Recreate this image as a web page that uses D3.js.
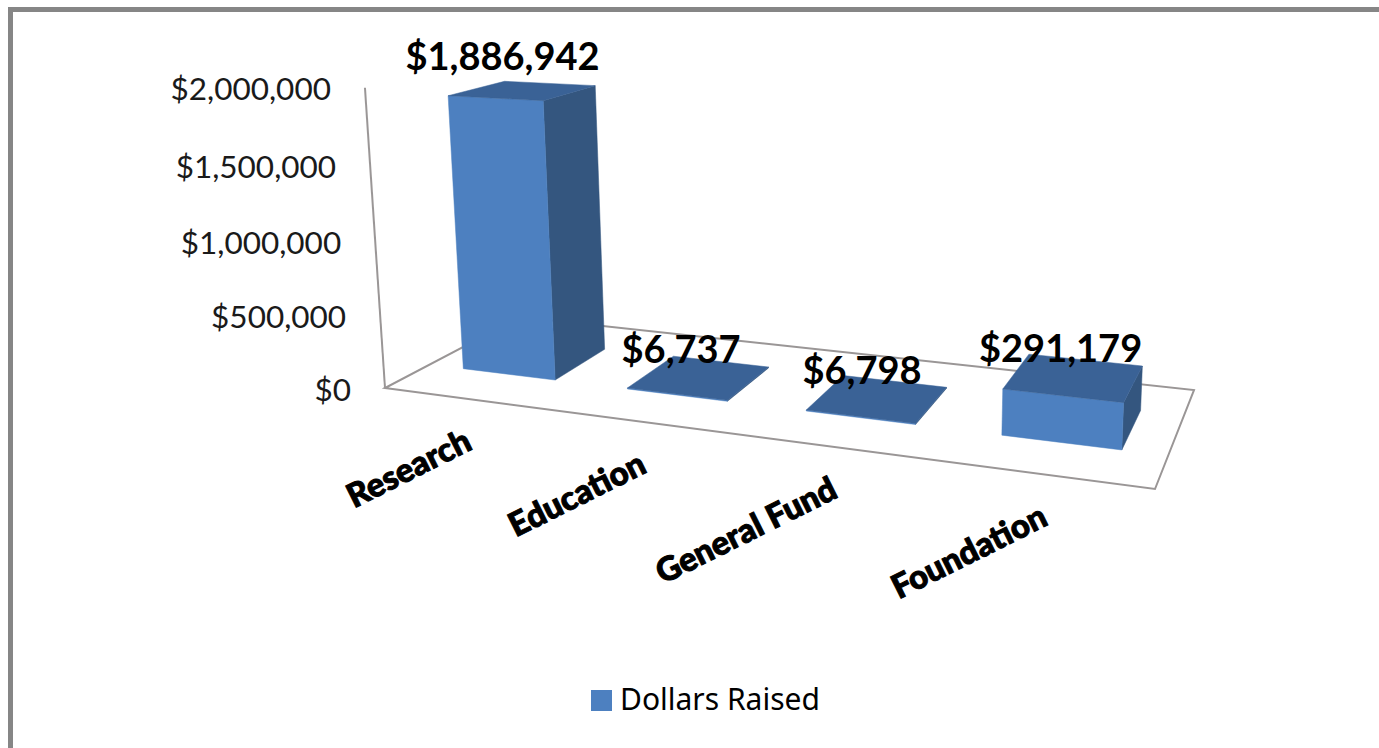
<!DOCTYPE html>
<html>
<head>
<meta charset="utf-8">
<script src="https://cdn.jsdelivr.net/npm/d3@7/dist/d3.min.js"></script>
<style>
    html, body { margin: 0; padding: 0; background: #fff; overflow: hidden; }
    text { fill: #000; }
</style>
</head>
<body>
<div id="chart"></div>
<script>
// chart values
const categories = ["Research", "Education", "General Fund", "Foundation"];
const dollarsRaised = [1886942, 6737, 6798, 291179];
const valueLabels = ["$1,886,942", "$6,737", "$6,798", "$291,179"];
const tickValues = [0, 500000, 1000000, 1500000, 2000000];
const seriesName = "Dollars Raised";

const width = 1379, height = 748;

const svg = d3.select("#chart").append("svg")
    .attr("width", width)
    .attr("height", height);

// homography for the chart floor: unit square (u along categories, v into depth)
// goes to the four floor corners in the picture
function floorMatrix(p) {
    const [p0, p1, p2, p3] = p;
    const dx1 = p1[0] - p2[0], dx2 = p3[0] - p2[0], sx = p0[0] - p1[0] + p2[0] - p3[0];
    const dy1 = p1[1] - p2[1], dy2 = p3[1] - p2[1], sy = p0[1] - p1[1] + p2[1] - p3[1];
    const det = dx1 * dy2 - dx2 * dy1;
    const g = (sx * dy2 - dx2 * sy) / det;
    const h = (dx1 * sy - sx * dy1) / det;
    return [
        [p1[0] - p0[0] + g * p1[0], p3[0] - p0[0] + h * p3[0], p0[0]],
        [p1[1] - p0[1] + g * p1[1], p3[1] - p0[1] + h * p3[1], p0[1]],
        [g, h, 1]
    ];
}

const floor = floorMatrix([[385, 388], [1155, 489], [1194, 390], [520, 317]]);
// vertical direction, it runs to a vanishing point far under the chart
const vanish = [860, 7500], lift = -0.0405;

function project(u, v, h) {
    const w = floor[2][0] * u + floor[2][1] * v + floor[2][2] + lift * h;
    return [
        (floor[0][0] * u + floor[0][1] * v + floor[0][2] + lift * h * vanish[0]) / w,
        (floor[1][0] * u + floor[1][1] * v + floor[1][2] + lift * h * vanish[1]) / w
    ];
}

const y = d3.scaleLinear().domain([0, 2000000]).range([0, 1]);
const x = d3.scaleBand().domain(categories).range([0.004, 0.997]).paddingInner(0.43).paddingOuter(0.2);
const depth = d3.scaleLinear().domain([0, 1]).range([0.30, 0.71]);

const line = d3.line();
const axisColor = "#9a9696";

// frame of the pasted picture
svg.append("path")
    .attr("d", "M10.5,748V9.5H1379")
    .attr("fill", "none")
    .attr("stroke", "#868686")
    .attr("stroke-width", 5);

// floor and value axis
svg.append("path")
    .attr("d", line([project(0, 0, 0), project(1, 0, 0), project(1, 1, 0), project(0, 1, 0)]) + "Z")
    .attr("fill", "none")
    .attr("stroke", axisColor)
    .attr("stroke-width", 2);

svg.append("path")
    .attr("d", line([project(0, 0, 0), project(0, 0, 1)]))
    .attr("fill", "none")
    .attr("stroke", axisColor)
    .attr("stroke-width", 2);

// value axis labels
svg.append("g").selectAll("text")
    .data(tickValues)
    .enter().append("text")
    .attr("x", d => project(0, 0, y(d))[0] - 34)
    .attr("y", d => project(0, 0, y(d))[1] + 12.5)
    .attr("text-anchor", "end")
    .style("font-family", "Lato")
    .style("font-size", "31.5px")
    .style("fill", "#1a1a1a")
    .text(d => "$" + d3.format(",")(d));

// bars, a corner is [side, depth, value]
const bars = svg.append("g").selectAll("g")
    .data(categories.map((c, i) => ({ category: c, value: dollarsRaised[i], label: valueLabels[i] })))
    .enter().append("g");

function corners(d) {
    const u0 = x(d.category), u1 = u0 + x.bandwidth();
    const v0 = depth(0), v1 = depth(1), h = y(d.value);
    return { u0, u1, v0, v1, h };
}

function face(colour, pts) {
    return function (d) {
        const c = corners(d);
        d3.select(this).append("path")
            .attr("d", line(pts(c).map(p => project(p[0], p[1], p[2]))) + "Z")
            .attr("fill", colour)
            .attr("stroke", colour)
            .attr("stroke-width", 0.5);
    };
}

bars.each(face("#34567f", c => [[c.u1, c.v0, 0], [c.u1, c.v1, 0], [c.u1, c.v1, c.h], [c.u1, c.v0, c.h]]));
bars.each(face("#4d80c0", c => [[c.u0, c.v0, 0], [c.u1, c.v0, 0], [c.u1, c.v0, c.h], [c.u0, c.v0, c.h]]));
bars.each(face("#3a6296", c => [[c.u0, c.v0, c.h], [c.u1, c.v0, c.h], [c.u1, c.v1, c.h], [c.u0, c.v1, c.h]]));

// data labels
bars.append("text")
    .attr("x", d => {
        const c = corners(d);
        return project((c.u0 + c.u1) / 2, 0.5, c.h)[0] - 21 + 9 * (c.u0 + c.u1) / 2;
    })
    .attr("y", d => {
        const c = corners(d);
        return project((c.u0 + c.u1) / 2, 0.5, c.h)[1] - 14.5 - 7 * c.h;
    })
    .attr("text-anchor", "middle")
    .style("font-family", "Lato")
    .style("font-weight", "700")
    .style("font-size", "38px")
    .text(d => d.label);

// category labels, slanted under the front edge of the floor
svg.append("g").selectAll("text")
    .data(categories)
    .enter().append("text")
    .attr("transform", d => {
        const p = project(x(d) + x.bandwidth() / 2, 0, 0);
        return `translate(${p[0] + 7},${p[1] + 50}) rotate(-26.5)`;
    })
    .attr("text-anchor", "end")
    .style("font-family", "Lato")
    .style("font-weight", "900")
    .style("font-size", "33px")
    .style("stroke", "#000")
    .style("stroke-width", 1)
    .text(d => d);

// legend
svg.append("rect")
    .attr("x", 591).attr("y", 690)
    .attr("width", 21).attr("height", 21)
    .attr("fill", "#4d80c0");

svg.append("text")
    .attr("x", 620).attr("y", 710)
    .style("font-family", "Noto Sans")
    .style("font-size", "30px")
    .text(seriesName);
</script>
</body>
</html>
